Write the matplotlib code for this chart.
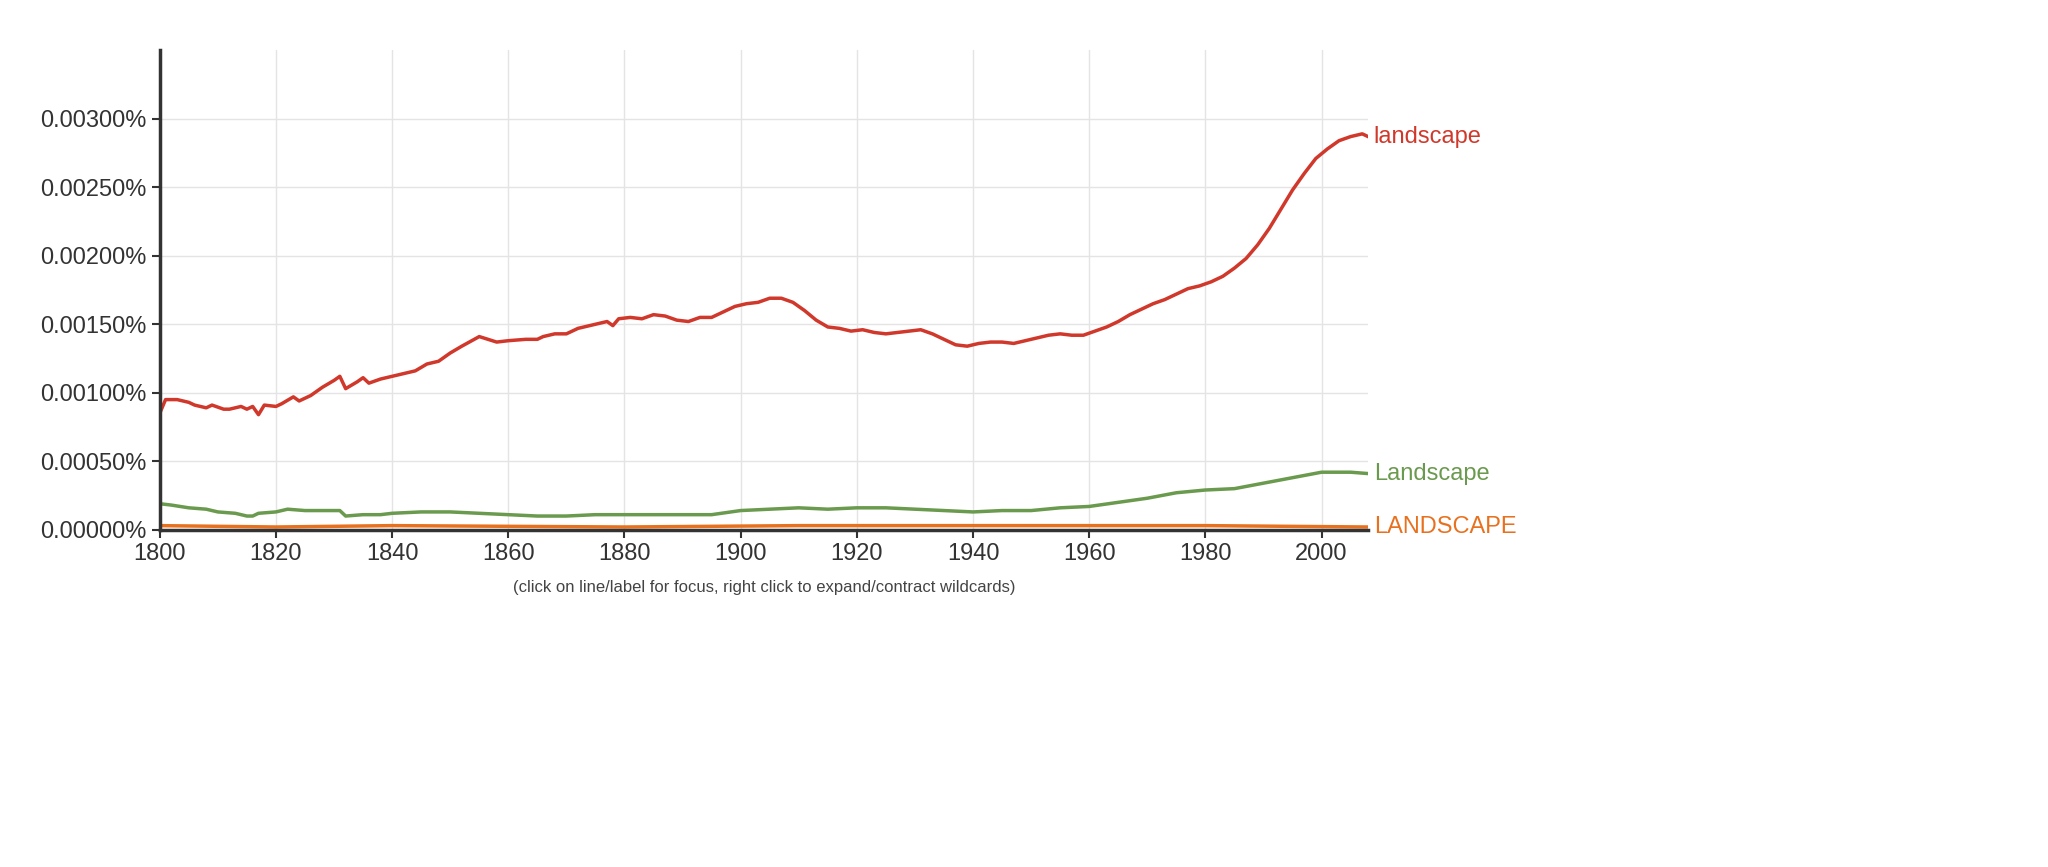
import matplotlib
matplotlib.use("Agg")
import matplotlib.pyplot as plt
from matplotlib.ticker import FuncFormatter

plt.rcParams['font.family'] = ['Liberation Sans', 'DejaVu Sans']

red_years = [1800,1801,1803,1805,1806,1808,1809,1811,1812,1814,1815,1816,1817,1818,1820,1821,1823,1824,1826,1828,1830,1831,1832,1834,1835,1836,1838,1840,1842,1844,1846,1848,1850,1852,1855,1858,1860,1863,1865,1866,1868,1870,1872,1875,1877,1878,1879,1881,1883,1885,1887,1889,1891,1893,1895,1897,1899,1901,1903,1905,1907,1909,1911,1913,1915,1917,1919,1921,1923,1925,1927,1929,1931,1933,1935,1937,1939,1941,1943,1945,1947,1949,1951,1953,1955,1957,1959,1961,1963,1965,1967,1969,1971,1973,1975,1977,1979,1981,1983,1985,1987,1989,1991,1993,1995,1997,1999,2001,2003,2005,2007,2008]
red_vals = [0.00085,0.00095,0.00095,0.00093,0.00091,0.00089,0.00091,0.00088,0.00088,0.0009,0.00088,0.0009,0.00084,0.00091,0.0009,0.00092,0.00097,0.00094,0.00098,0.00104,0.00109,0.00112,0.00103,0.00108,0.00111,0.00107,0.0011,0.00112,0.00114,0.00116,0.00121,0.00123,0.00129,0.00134,0.00141,0.00137,0.00138,0.00139,0.00139,0.00141,0.00143,0.00143,0.00147,0.0015,0.00152,0.00149,0.00154,0.00155,0.00154,0.00157,0.00156,0.00153,0.00152,0.00155,0.00155,0.00159,0.00163,0.00165,0.00166,0.00169,0.00169,0.00166,0.0016,0.00153,0.00148,0.00147,0.00145,0.00146,0.00144,0.00143,0.00144,0.00145,0.00146,0.00143,0.00139,0.00135,0.00134,0.00136,0.00137,0.00137,0.00136,0.00138,0.0014,0.00142,0.00143,0.00142,0.00142,0.00145,0.00148,0.00152,0.00157,0.00161,0.00165,0.00168,0.00172,0.00176,0.00178,0.00181,0.00185,0.00191,0.00198,0.00208,0.0022,0.00234,0.00248,0.0026,0.00271,0.00278,0.00284,0.00287,0.00289,0.00287]

green_years = [1800,1802,1805,1808,1810,1813,1815,1816,1817,1820,1822,1825,1828,1831,1832,1835,1838,1840,1845,1850,1855,1860,1865,1870,1875,1880,1885,1890,1895,1900,1905,1910,1915,1920,1925,1930,1935,1940,1945,1950,1955,1960,1965,1970,1975,1980,1985,1990,1995,2000,2005,2008]
green_vals = [0.00019,0.00018,0.00016,0.00015,0.00013,0.00012,0.0001,0.0001,0.00012,0.00013,0.00015,0.00014,0.00014,0.00014,0.0001,0.00011,0.00011,0.00012,0.00013,0.00013,0.00012,0.00011,0.0001,0.0001,0.00011,0.00011,0.00011,0.00011,0.00011,0.00014,0.00015,0.00016,0.00015,0.00016,0.00016,0.00015,0.00014,0.00013,0.00014,0.00014,0.00016,0.00017,0.0002,0.00023,0.00027,0.00029,0.0003,0.00034,0.00038,0.00042,0.00042,0.00041]

orange_years = [1800,1820,1840,1880,1910,1940,1980,2008]
orange_vals = [0.00003,0.00002,0.00003,0.00002,0.00003,0.00003,0.00003,0.00002]

labels = ["landscape", "Landscape", "LANDSCAPE"]
colors = ["#d0382b", "#6a9a4e", "#e8711f"]

fig = plt.figure(figsize=(20.48, 8.67), dpi=100)
ax = fig.add_axes([0.078, 0.389, 0.59, 0.553])
series = [(red_years, red_vals), (green_years, green_vals), (orange_years, orange_vals)]
for (x, y), lab, c in zip(series, labels, colors):
    ax.plot(x, y, color=c, lw=2.5)
    ax.text(x[-1] + 1, y[-1], lab, color=c, fontsize=17, va="center", ha="left")

ax.set_xlim(1800, 2008)
ax.set_ylim(0, 0.0035)
ax.set_xticks(range(1800, 2001, 20))
ax.set_yticks([i * 0.0005 for i in range(7)])
ax.yaxis.set_major_formatter(FuncFormatter(lambda v, p: f"{v:.5f}%"))
ax.grid(True, color="#e4e4e4", lw=1)
ax.set_axisbelow(True)
for s in ["top", "right"]:
    ax.spines[s].set_visible(False)
ax.spines["left"].set_color("#333333")
ax.spines["left"].set_linewidth(2.5)
ax.spines["bottom"].set_color("#333333")
ax.spines["bottom"].set_linewidth(2.5)
ax.tick_params(labelsize=17, colors="#333333", length=6, width=1.5)
ax.text(0.5, -0.13, "(click on line/label for focus, right click to expand/contract wildcards)",
        transform=ax.transAxes, ha="center", fontsize=12, color="#444444")
fig.savefig("out.png", dpi=100)
